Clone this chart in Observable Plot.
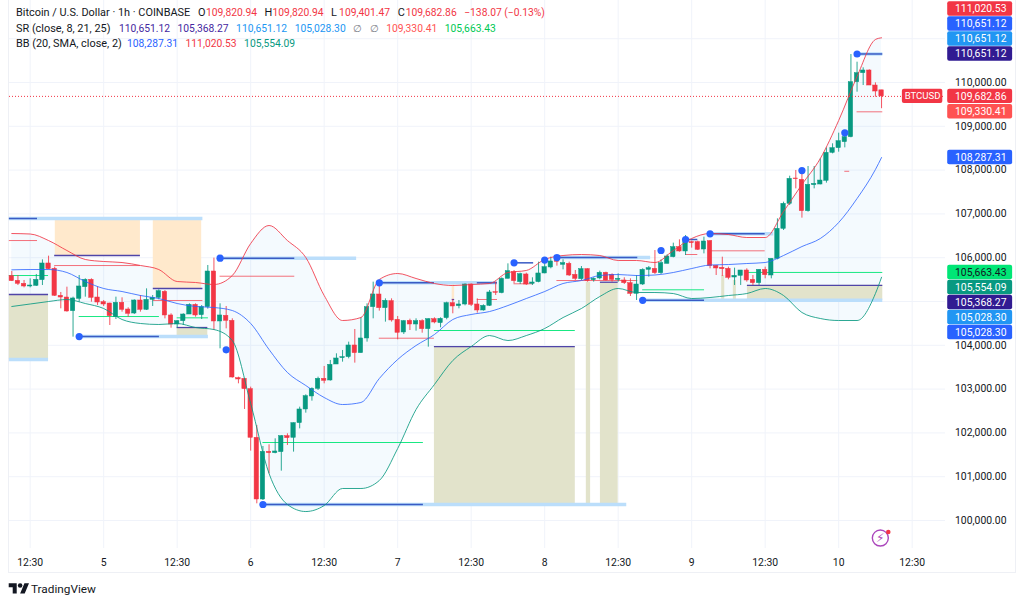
<!DOCTYPE html>
<html>
<head>
<meta charset="utf-8">
<script src="https://cdn.jsdelivr.net/npm/d3@7"></script>
<script src="https://cdn.jsdelivr.net/npm/@observablehq/plot@0.6"></script>
<style>
  body { margin: 0; background: #fff; font-family: Roboto, sans-serif; color: #131722; }
  #page { position: relative; width: 1024px; height: 605px; overflow: hidden; }
  #frame { position: absolute; left: 8px; top: -1px; width: 1008px; height: 574px; border: 1px solid #eef0f5; box-sizing: border-box; }
  #plot { position: absolute; left: 0; top: 0; }
  #legend { position: absolute; left: 16px; top: 5px; font-size: 10.9px; line-height: 15.5px; white-space: nowrap; }
  #legend .name { display: inline-block; }
  #legend .key { display: inline-block; width: 8px; }
  #legend .val { font-size: 10.3px; margin-right: 7.5px; }
  #logo { position: absolute; left: 8px; top: 581px; display: flex; align-items: center; font-size: 11.8px; color: #131722; }
  #logo svg { margin-right: 1px; }
</style>
</head>
<body>
<div id="page">
  <div id="frame"></div>
  <div id="plot"></div>
  <div id="legend"></div>
  <div id="logo">
    <svg width="22" height="16" viewBox="0 0 36 28" fill="#131722"><path d="M14 22H7V11H0V4h14v18zM28 22h-8l7.5-18h8L28 22z"/><circle cx="20" cy="8" r="4"/></svg>
    TradingView
  </div>
</div>
<script>
// hourly candles, bar 15 is the 5th at 00:00
const open = [
  105580,105472,105403,105343,105358,105487,105868,105746,105130,105091,
  104780,105061,105327,105495,105091,104985,104954,104642,104970,104817,
  104726,105023,104810,105038,105084,105221,104681,104475,104551,104703,
  104924,104688,104871,105685,104544,104673,104559,103250,103235,102999,
  101888,100480,101568,101538,101561,101926,101888,102223,102535,102832,
  103007,103235,103197,103562,103707,103730,103996,103821,104156,104871,
  105160,104848,105008,104582,104293,104559,104475,104551,104369,104597,
  104506,104620,104962,104894,104932,105388,104932,104795,104901,105213,
  105191,105518,105670,105442,105617,105404,105442,105640,105777,105921,
  105838,105860,105609,105510,105739,105487,105526,105655,105609,105495,
  105480,105419,105175,105388,105723,105746,105647,105860,106012,106241,
  106142,106355,106355,106187,106378,105814,105769,105746,105548,105586,
  105708,105495,105419,105723,105594,105974,106659,107230,107808,107778,
  107062,107656,107671,107755,108394,108501,108638,108752,110007,110213,
  110274,109931,109820.94
];
const high = [
  105685,105594,105480,105518,105617,105951,106035,105784,105206,105327,
  105099,105594,105518,105518,105327,105023,104962,105099,105084,104856,
  105038,105137,105289,105137,105267,105251,104719,104566,104719,104947,
  104947,104909,105822,105990,104947,104886,104605,103273,103235,103045,
  102170,101690,101728,101865,101941,101979,102230,102588,102870,103029,
  103273,103517,103654,103806,103882,104072,104361,104628,104947,105442,
  105442,105061,105061,104658,104567,104597,104605,104582,104605,104628,
  104628,104985,105038,105023,105404,105404,105061,104924,105252,105442,
  105541,105860,105708,105647,105647,105541,105898,105974,106013,105974,
  105952,105898,105708,105799,105746,105541,105693,105670,105632,105632,
  105541,105518,105594,105746,105799,106164,105951,106066,106332,106408,
  106507,106378,106378,106469,106393,105822,106012,105784,105761,105708,
  105746,105594,105731,105784,105974,106887,107268,107861,107991,107991,
  108082,108082,108257,108508,108600,108843,108828,110639,110464,110335,
  110289,109992,109820.94
];
const low = [
  105457,105365,105312,105312,105343,105365,105723,105114,104833,104757,
  104186,104985,105099,104985,104909,104886,104452,104589,104757,104642,
  104703,104757,104795,104886,105038,104604,104391,104391,104452,104703,
  104642,104589,104825,104338,103920,104376,103250,103121,102535,101584,
  100381,100457,101066,101523,101127,101713,101561,102093,102451,102725,
  102969,103121,103182,103562,103615,103691,103593,103821,104072,104605,
  104780,104529,104529,104125,104247,104338,104323,104277,103958,104491,
  104399,104582,104719,104833,104901,104886,104734,104780,104886,105137,
  105176,105518,105404,105389,105366,105366,105427,105632,105746,105807,
  105723,105571,105480,105480,105442,105442,105495,105465,105442,105442,
  105388,105114,105023,105366,105556,105617,105617,105860,105997,106126,
  106050,106218,106164,106088,105746,105594,105571,105495,105366,105366,
  105442,105366,105366,105518,105518,105951,106621,107192,107572,106903,
  107040,107572,107664,107702,108371,108409,108508,108737,109779,109931,
  109931,109665,109401.47
];
const close = [
  105465,105403,105343,105365,105495,105868,105738,105130,105091,104772,
  105069,105343,105495,105084,104977,104932,104665,104970,104810,104719,
  105023,104810,105038,105084,105236,104681,104475,104551,104703,104924,
  104681,104871,105685,104544,104681,104559,103265,103220,102999,101888,
  100480,101568,101538,101576,101926,101880,102223,102535,102839,103007,
  103235,103189,103555,103699,103730,103996,103821,104156,104871,105160,
  104848,105016,104567,104285,104551,104475,104551,104369,104597,104521,
  104605,104962,104886,104932,105388,104924,104795,104901,105206,105198,
  105518,105693,105465,105624,105388,105434,105640,105784,105914,105906,
  105876,105594,105518,105739,105465,105518,105655,105480,105495,105518,
  105419,105175,105388,105723,105761,105647,105875,106028,106241,106142,
  106355,106332,106180,106370,105807,105754,105738,105540,105586,105708,
  105480,105419,105723,105601,105974,106659,107230,107800,107793,107062,
  107664,107686,107762,108394,108501,108660,108752,110007,110213,110274,
  109931,109794,109682.86
];

// bollinger bands, read every third bar
const bbBars = [0,3,6,9,12,15,18,21,24,27,30,33,36,39,42,45,48,51,54,57,60,63,66,69,72,75,78,81,84,87,90,93,96,99,102,105,108,111,114,117,120,123,126,129,132,135,138,141,142];
const bbUpper = [106552,106541,106392,106164,105959,105913,105890,105822,105730,105456,105434,105388,105593,106324,106735,106392,106004,105137,104566,104634,105502,105639,105525,105411,105365,105388,105411,105662,105708,105959,106050,106073,106050,105936,105936,105890,106164,106438,106552,106529,106461,106461,107054,107671,108264,109132,110137,110981,111020.53];
const bbBasis = [105723,105730,105730,105662,105456,105297,105228,105137,105068,104954,104886,104863,104794,104498,103904,103379,103082,102808,102648,102694,103242,103676,103995,104246,104589,104703,104771,104908,105068,105228,105411,105479,105593,105616,105593,105605,105662,105753,105833,105844,105867,105890,106050,106255,106438,106803,107351,108013,108287.31];
const bbLower = [104886,104943,105000,105045,104954,104840,104589,104498,104475,104498,104406,104360,104109,102671,101073,100365,100205,100342,100731,100731,100913,101644,102534,103105,103653,103972,104223,104109,104223,104383,104634,104840,105114,105297,105205,105205,105182,105068,105091,105137,105182,105297,105137,104749,104612,104566,104566,105182,105554.09];

// support / resistance levels: [first bar, last bar, price]
const srBands = [[-0.4,31.2,106895],[-0.4,6,103676],[11,32.1,104200],[34,56.3,105990],[41,100.4,100365],[60,79.3,105427],[89,104.3,106004],[103,124.4,105028.3],[114,124.4,106545],[120.1,142.2,105028.3],[138,142.2,110651.12]];
const srLines = [[-0.4,4.2,106895],[11,24.1,104200],[34,46.2,105990],[41,67.2,100365],[60,69,105427],[76,79.3,105427],[82,85.2,105883],[89,102.2,106004],[103,113.1,105028.3],[110,112,106415],[114,123,106545],[138,142.2,110651.12]];
const srNavy = [[7,21,106050],[23.1,31.2,105297],[-0.4,6,105160],[27,32,104406],[69,92,103972],[96.1,99,105440],[71.9,72.3,105045],[120.1,142.2,105368.27]];
const srRed = [[-0.4,4.2,106392],[7,21,105821],[23.1,31.2,105023],[34,46.2,105577],[60,69,104162],[76,79.3,105046],[82,85.2,105404],[89,102.2,105479],[110,112,106073],[114,123,106157],[136,136.8,107973],[138,142.2,109330.41]];
const srGreen = [[-0.4,6,105593],[11,24.1,104657],[27,32.1,104627],[41,67.2,101781],[69,92,104338],[103,113.1,105267],[120.1,142.2,105663.43]];
// zones: [first bar, last bar, top, bottom]
const orangeZones = [[7.1,21,106895,106050],[23.1,31,106895,105297],[71.9,72.3,105440,105045]];
const beigeZones = [[-0.4,6,105160,103676],[27,32,104406,104200],[69,92,103972,100365],[93.8,94.5,105440,100365],[96.1,99,105440,100365],[115.9,116.4,105593,105028],[117.8,118.3,105480,105028],[120.1,142.2,105368,105028]];
// pivot dots: bar and price
const pivotBars = [11,35,34,41,60,82,87,89,103,106,110,114,129,136,138];
const pivotPrices = [104200,103897,105990,100365,105427,105883,105945,106004,105028,106164,106415,106545,107990,108851,110651];

const xTickBars = [3,15,27,39,51,63,75,87,99,111,123,135,147];
const xTickLabels = ["12:30","5","12:30","6","12:30","7","12:30","8","12:30","9","12:30","10","12:30"];
const gridPrices = d3.range(100000, 111001, 1000);
const axisPrices = gridPrices.filter(d => d != 105000 && d != 111000);

const lastPrice = 109682.86;
const tagValues = [111020.53,110651.12,110651.12,110651.12,109682.86,109330.41,108287.31,105663.43,105554.09,105368.27,105028.3,105028.3];
const tagColors = ["#f23645","#2962ff","#2196f3","#311b92","#f23645","#ff5252","#2962ff","#00e676","#089981","#311b92","#2196f3","#2962ff"];

const green = "#089981", red = "#f23645";
const fmt = d3.format(",.2f");

const candles = open.map((o, i) => ({bar: i, open: o, high: high[i], low: low[i], close: close[i]}));
const rising = candles.filter(d => d.close >= d.open);
const falling = candles.filter(d => d.close < d.open);
const bands = bbBars.map((b, i) => ({bar: b, upper: bbUpper[i], basis: bbBasis[i], lower: bbLower[i]}));
const pivots = pivotBars.map((b, i) => ({bar: b, price: pivotPrices[i]}));

// price labels stack so they dont overlap, the top group goes up and the rest pushes down
const tagStep = 342.5;
const tagTop = tagValues.filter(d => d > 110000);
let prev = Infinity;
const tags = tagValues.map((v, i) => {
  let slot;
  if (v > 110000) {
    slot = d3.min(tagTop) + tagStep * (tagTop.length - 1 - i);
  } else {
    slot = Math.min(v, prev - tagStep);
    prev = slot;
  }
  return {value: v, slot: slot, color: tagColors[i], ink: v == 105663.43 ? "#131722" : "#fff"};
});

const levelRule = (rows, stroke, strokeWidth, strokeOpacity) =>
  Plot.ruleY(rows, {x1: d => d[0], x2: d => d[1], y: d => d[2], stroke, strokeWidth, strokeOpacity});
const zoneRect = (rows, fill) =>
  Plot.rect(rows, {x1: d => d[0], x2: d => d[1], y1: d => d[2], y2: d => d[3], fill});

const chart = Plot.plot({
  width: 1024,
  height: 573,
  marginLeft: 9,
  marginRight: 79,
  marginTop: 0,
  marginBottom: 25,
  x: {domain: [-0.3755, 152.44], axis: null},
  y: {domain: [99361, 111872], axis: null},
  color: {type: "identity"},
  style: {fontFamily: "Roboto, sans-serif", fontSize: "10.4px", color: "#131722", background: "transparent"},
  marks: [
    Plot.gridY(gridPrices, {stroke: "#f0f3fa", strokeOpacity: 1}),
    Plot.gridX(xTickBars, {stroke: "#f0f3fa", strokeOpacity: 1}),
    Plot.areaY(bands, {x: "bar", y1: "lower", y2: "upper", curve: "monotone-x", fill: "#2196f3", fillOpacity: 0.05}),
    zoneRect(orangeZones, "#ffe9cc"),
    zoneRect(beigeZones, "#e2e3cb"),
    levelRule(srBands, "#bbdefb", 3.5, 1),
    levelRule(srLines, "#3a5bc4", 1.5, 1),
    levelRule(srNavy, "#4f45a8", 1.3, 1),
    levelRule(srRed, red, 1, 0.7),
    levelRule(srGreen, "#00e676", 1, 0.9),
    Plot.ruleX(rising, {x: "bar", y1: "low", y2: "high", stroke: green, strokeWidth: 1, strokeOpacity: 0.85}),
    Plot.ruleX(falling, {x: "bar", y1: "low", y2: "high", stroke: red, strokeWidth: 1, strokeOpacity: 0.85}),
    Plot.rect(rising, {x1: d => d.bar - 0.36, x2: d => d.bar + 0.36, y1: "open", y2: "close", fill: green, stroke: green, strokeWidth: 0.5}),
    Plot.rect(falling, {x1: d => d.bar - 0.36, x2: d => d.bar + 0.36, y1: "open", y2: "close", fill: red, stroke: red, strokeWidth: 0.5}),
    Plot.line(bands, {x: "bar", y: "upper", curve: "monotone-x", stroke: red, strokeWidth: 1, strokeOpacity: 0.85}),
    Plot.line(bands, {x: "bar", y: "basis", curve: "monotone-x", stroke: "#2962ff", strokeWidth: 1, strokeOpacity: 0.8}),
    Plot.line(bands, {x: "bar", y: "lower", curve: "monotone-x", stroke: green, strokeWidth: 1, strokeOpacity: 0.85}),
    Plot.dot(pivots, {x: "bar", y: "price", r: 3.6, fill: "#2962ff"}),
    Plot.ruleY([lastPrice], {x1: -0.3755, x2: 152.44, stroke: red, strokeWidth: 1, strokeDasharray: "1,2"}),
    // alert icon
    Plot.dot([99600], {x: 141.8, y: d => d, r: 8, stroke: "#ab47bc", strokeWidth: 1.4, fill: "#fff"}),
    Plot.text([99600], {x: 141.8, y: d => d, text: () => "⚡", fill: "#ab47bc", fontSize: 12, fontFamily: "DejaVu Sans"}),
    Plot.dot([99737], {x: 143.1, y: d => d, r: 2.3, fill: red}),
    Plot.axisX(xTickBars, {anchor: "bottom", label: null, tickSize: 0, tickPadding: 10, tickFormat: d => xTickLabels[xTickBars.indexOf(d)]}),
    Plot.axisY(axisPrices, {anchor: "right", label: null, tickSize: 0, tickPadding: 0, textAnchor: "end", dx: 61, tickFormat: fmt}),
    // price tags on the right
    Plot.rect(tags, {x1: 152.8, x2: 163.4, y1: d => d.slot - 165, y2: d => d.slot + 165, fill: "color", rx: 2}),
    Plot.text(tags, {x: 162.4, y: "slot", text: d => fmt(d.value), textAnchor: "end", fill: "ink", fontSize: 10.4}),
    Plot.rect([lastPrice], {x1: 145.4, x2: 152, y1: d => d - 165, y2: d => d + 165, fill: red, rx: 2}),
    Plot.text([lastPrice], {x: 148.7, y: d => d, text: () => "BTCUSD", fill: "#fff", fontSize: 9.6})
  ]
});
document.getElementById("plot").append(chart);

// legend rows
const legendRows = [
  {name: "Bitcoin / U.S. Dollar · 1h · COINBASE", width: 182, items: [["O","109,820.94",red],["H","109,820.94",red],["L","109,401.47",red],["C","109,682.86",red],["","−138.07 (−0.13%)",red]]},
  {name: "SR (close, 8, 21, 25)", width: 103, items: [["","110,651.12","#4527a0"],["","105,368.27","#4527a0"],["","110,651.12","#2196f3"],["","105,028.30","#2196f3"],["","∅","#787b86"],["","∅","#787b86"],["","109,330.41","#ff5252"],["","105,663.43","#00c853"]]},
  {name: "BB (20, SMA, close, 2)", width: 111, items: [["","108,287.31","#2962ff"],["","111,020.53",red],["","105,554.09",green]]}
];
document.getElementById("legend").innerHTML = legendRows.map(r =>
  `<div><span class="name" style="width:${r.width}px">${r.name}</span>` +
  r.items.map(it => (it[0] ? `<span class="key">${it[0]}</span>` : "") + `<span class="val" style="color:${it[2]}">${it[1]}</span>`).join("") +
  `</div>`).join("");
</script>
</body>
</html>
